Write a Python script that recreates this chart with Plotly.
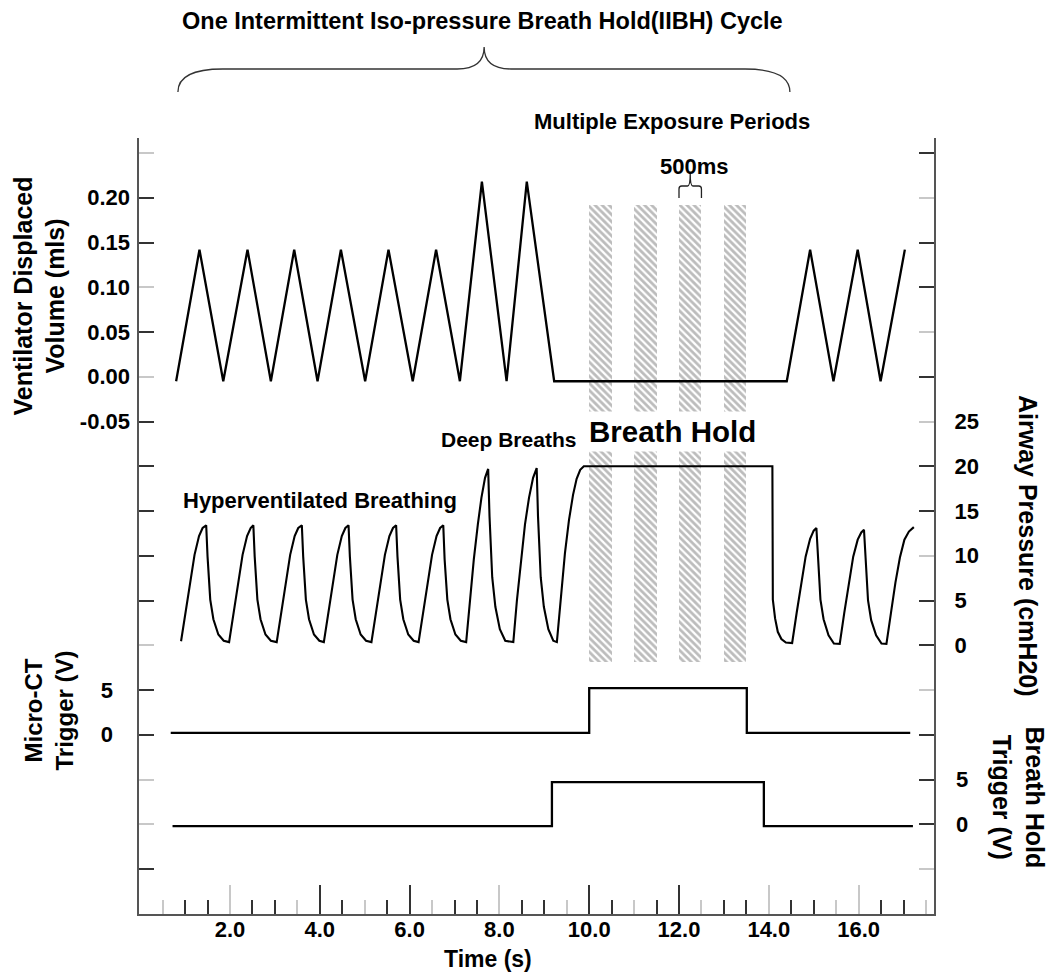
import plotly.graph_objects as go

# ---------------- data ----------------
# Ventilator displaced volume (mls)
vol_t = [0.80, 1.32, 1.85, 2.39, 2.91, 3.43, 3.95, 4.47, 5.01, 5.53, 6.07, 6.59,
         7.12, 7.61, 8.16, 8.61, 9.22, 14.40, 14.92, 15.44, 15.98, 16.49, 17.03]
vol_v = [-0.005, 0.142, -0.005, 0.142, -0.005, 0.142, -0.005, 0.142, -0.005, 0.142,
         -0.005, 0.142, -0.005, 0.218, -0.005, 0.218, -0.005, -0.005, 0.142, -0.005,
         0.142, -0.005, 0.142]

# Airway pressure (cmH2O)
pres_t = [
    0.91, 1.01, 1.11, 1.21, 1.31, 1.39, 1.47, 1.50, 1.56, 1.63, 1.74, 1.86,
    1.98, 2.08, 2.18, 2.28, 2.38, 2.46, 2.52, 2.55, 2.61, 2.68, 2.79, 2.91,
    3.04, 3.14, 3.24, 3.34, 3.44, 3.52, 3.60, 3.63, 3.69, 3.76, 3.87, 3.99,
    4.09, 4.19, 4.29, 4.39, 4.49, 4.57, 4.64, 4.67, 4.73, 4.80, 4.91, 5.03,
    5.15, 5.25, 5.35, 5.45, 5.55, 5.63, 5.70, 5.73, 5.79, 5.86, 5.97, 6.09,
    6.20, 6.30, 6.40, 6.50, 6.60, 6.68, 6.75, 6.78, 6.84, 6.91, 7.02, 7.14,
    7.26, 7.34, 7.43, 7.52, 7.60, 7.68, 7.75, 7.78, 7.84, 7.91, 8.01, 8.13,
    8.31, 8.39, 8.48, 8.57, 8.66, 8.75, 8.83, 8.86, 8.92, 8.99, 9.09, 9.20,
    9.28, 9.37, 9.46, 9.55, 9.64, 9.72, 9.80, 9.88, 14.08, 14.09, 14.14, 14.20, 14.28, 14.38,
    14.52, 14.62, 14.72, 14.82, 14.92, 15.00, 15.06, 15.09, 15.15, 15.22, 15.33, 15.45,
    15.58, 15.68, 15.78, 15.88, 15.98, 16.06, 16.12, 16.15, 16.21, 16.28, 16.39, 16.51,
    16.62, 16.72, 16.82, 16.92, 17.02, 17.12, 17.23,
]
pres_v = [
    0.45, 3.6, 7.0, 10.1, 12.2, 13.1, 13.4, 9.9, 5.1, 2.9, 1.2, 0.5,
    0.35, 3.6, 7.0, 10.1, 12.2, 13.1, 13.4, 9.9, 5.1, 2.9, 1.2, 0.5,
    0.35, 3.6, 7.0, 10.1, 12.2, 13.1, 13.4, 9.9, 5.1, 2.9, 1.2, 0.5,
    0.35, 3.6, 7.0, 10.1, 12.2, 13.1, 13.4, 9.9, 5.1, 2.9, 1.2, 0.5,
    0.35, 3.6, 7.0, 10.1, 12.2, 13.1, 13.4, 9.9, 5.1, 2.9, 1.2, 0.5,
    0.35, 3.6, 7.0, 10.1, 12.2, 13.1, 13.4, 9.6, 5.1, 2.9, 1.2, 0.5,
    0.35, 5.0, 9.6, 13.5, 16.5, 18.7, 19.7, 14.4, 7.6, 4.3, 1.8, 0.5,
    0.35, 5.0, 9.6, 13.5, 16.5, 18.7, 19.8, 14.4, 7.6, 4.3, 1.8, 0.5,
    0.35, 5.5, 10.3, 14.0, 16.8, 18.6, 19.6, 20.0, 20.0, 5.1, 3.0, 1.5, 0.7, 0.3,
    0.25, 3.6, 7.0, 9.9, 11.9, 12.8, 13.1, 9.9, 5.1, 2.9, 1.1, 0.2,
    0.15, 3.6, 7.0, 9.9, 11.8, 12.6, 12.9, 9.8, 5.0, 2.8, 1.1, 0.2,
    0.15, 3.6, 7.0, 9.8, 11.8, 12.7, 13.2,
]

# Micro-CT trigger (V)
ct_t = [0.68, 10.00, 10.00, 13.51, 13.51, 17.15]
ct_v = [0.2, 0.2, 5.2, 5.2, 0.2, 0.2]

# Breath hold trigger (V)
bh_t = [0.72, 9.17, 9.17, 13.89, 13.89, 17.21]
bh_v = [-0.2, -0.2, 4.7, 4.7, -0.2, -0.2]

# exposure periods (s) and their length (500 ms)
exp_start = [10.0, 11.0, 12.0, 13.0]
exp_len = [0.5, 0.5, 0.5, 0.5]

# tick labels
vol_ticks = [0.20, 0.15, 0.10, 0.05, 0.00, -0.05]
pres_ticks = [0, 5, 10, 15, 20, 25]
trig_ticks = [0, 5]
time_ticks = [2, 4, 6, 8, 10, 12, 14, 16]

# ---------------- geometry ----------------
W, H = 1051, 974
ML, MR, MT, MB = 139, 117, 138, 60
PW, PH = W - ML - MR, H - MT - MB
PX_PER_S = 44.9
X0_PX = 140.2
XMIN = -(X0_PX - ML) / PX_PER_S
XMAX = XMIN + PW / PX_PER_S
TICK0_PY, TICK_STEP = 153.0, 44.75


def px(xp):
    return (xp - ML) / PW


def py(yp):
    return (H - MB - yp) / PH


def yrange(k_zero, step):
    top = (k_zero + (TICK0_PY - MT) / TICK_STEP) * step
    return [top - PH / TICK_STEP * step, top]


def kpaper(ks):
    return [py(TICK0_PY + TICK_STEP * k) for k in ks]


FONT = "Liberation Sans, Arial, Helvetica, sans-serif"
AX = "#555555"
GRAY_T = "#c8c8c8"
BLK_T = "#333333"

fig = go.Figure()

# hatched exposure bars (bottom layer, on hidden paper-like axis y)
bar_bot, bar_top = py(662), py(205)
fig.add_trace(go.Bar(
    x=exp_start, y=[bar_top - bar_bot] * len(exp_start), base=bar_bot,
    width=exp_len, offset=0, xaxis="x", yaxis="y",
    marker=dict(color="white", line=dict(width=0),
                pattern=dict(shape="\\", fgcolor="#7a7a7a", bgcolor="white",
                             size=5, solidity=0.55)),
    hoverinfo="skip", showlegend=False))

line = dict(color="black", width=2.3)
fig.add_trace(go.Scatter(x=vol_t, y=vol_v, mode="lines", line=line, yaxis="y2", showlegend=False))
fig.add_trace(go.Scatter(x=pres_t, y=pres_v, mode="lines", line=dict(color="black", width=2.1),
                         yaxis="y3", showlegend=False))
fig.add_trace(go.Scatter(x=ct_t, y=ct_v, mode="lines", line=line, yaxis="y4", showlegend=False))
fig.add_trace(go.Scatter(x=bh_t, y=bh_v, mode="lines", line=line, yaxis="y5", showlegend=False))

# empty traces so that the tick-only helper axes get drawn
for xa, ya in [("x2", "y"), ("x3", "y"), ("x4", "y"), ("x5", "y"),
               ("x", "y6"), ("x", "y7"), ("x", "y8"), ("x", "y9")]:
    fig.add_trace(go.Scatter(x=[], y=[], xaxis=xa, yaxis=ya, mode="lines",
                             showlegend=False, hoverinfo="skip"))

tickfont = dict(family=FONT, size=22, color="black", weight="bold")
base_y = dict(showgrid=False, zeroline=False, fixedrange=True)

# x tick groups
half = [0.5 * i for i in range(1, 36)]
gray_short = [0.5, 3.5, 5.0, 6.5, 9.5, 11.0, 12.5, 15.5, 17.5]
gray_tall = [2, 8, 14, 16]
black_tall = [4, 6, 10, 12]
black_short = [v for v in half if v not in gray_short + gray_tall + black_tall]

xcommon = dict(range=[XMIN, XMAX], showgrid=False, zeroline=False, fixedrange=True)
layout = dict(
    width=W, height=H, margin=dict(l=ML, r=MR, t=MT, b=MB),
    paper_bgcolor="white", plot_bgcolor="white", showlegend=False, bargap=0,
    xaxis=dict(**xcommon, tickvals=time_ticks, ticktext=[f"{v:.1f}" for v in time_ticks],
               ticks="", showline=True, linecolor=AX, linewidth=2, tickfont=tickfont,
               ticklabelstandoff=-5),
    xaxis2=dict(**xcommon, overlaying="x", anchor="y", side="bottom", tickvals=black_short,
                ticks="inside", ticklen=14, tickwidth=1.5, tickcolor=BLK_T, showticklabels=False),
    xaxis3=dict(**xcommon, overlaying="x", anchor="y", side="bottom", tickvals=gray_short,
                ticks="inside", ticklen=14, tickwidth=2, tickcolor=GRAY_T, showticklabels=False),
    xaxis4=dict(**xcommon, overlaying="x", anchor="y", side="bottom", tickvals=black_tall,
                ticks="inside", ticklen=29, tickwidth=1.5, tickcolor=BLK_T, showticklabels=False),
    xaxis5=dict(**xcommon, overlaying="x", anchor="y", side="bottom", tickvals=gray_tall,
                ticks="inside", ticklen=29, tickwidth=2, tickcolor=GRAY_T, showticklabels=False),
    yaxis=dict(**base_y, range=[0, 1], showline=True, linecolor=AX, linewidth=2,
               ticks="", showticklabels=False),
    yaxis2=dict(**base_y, overlaying="y", anchor="x", side="left", range=yrange(5, 0.05),
                tickvals=vol_ticks, ticktext=[f"{v:.2f}" for v in vol_ticks], ticks="",
                tickfont=tickfont, ticklabelstandoff=8),
    yaxis3=dict(**base_y, overlaying="y", anchor="x", side="right", range=yrange(11, 5),
                tickvals=pres_ticks, ticks="", tickfont=tickfont, ticklabelstandoff=14,
                showline=True, linecolor=AX, linewidth=2),
    yaxis4=dict(**base_y, overlaying="y", anchor="x", side="left", range=yrange(13, 5),
                tickvals=trig_ticks, ticks="", tickfont=tickfont, ticklabelstandoff=25),
    yaxis5=dict(**base_y, overlaying="y", anchor="x", side="right", range=yrange(15, 5),
                tickvals=trig_ticks, ticks="", tickfont=tickfont, ticklabelstandoff=21),
    yaxis6=dict(**base_y, overlaying="y", anchor="x", side="left", range=[0, 1],
                tickvals=kpaper([1, 2, 4, 6, 7, 8, 9, 10, 12, 13, 16]), ticks="inside",
                ticklen=15, tickwidth=1.5, tickcolor=BLK_T, showticklabels=False),
    yaxis7=dict(**base_y, overlaying="y", anchor="x", side="left", range=[0, 1],
                tickvals=kpaper([0, 3, 5, 11, 14, 15]), ticks="inside",
                ticklen=15, tickwidth=2, tickcolor=GRAY_T, showticklabels=False),
    yaxis8=dict(**base_y, overlaying="y", anchor="x", side="right", range=[0, 1],
                tickvals=kpaper([0, 2, 3, 5, 7, 8, 10, 11, 13, 14, 15]), ticks="inside",
                ticklen=15, tickwidth=1.5, tickcolor=BLK_T, showticklabels=False),
    yaxis9=dict(**base_y, overlaying="y", anchor="x", side="right", range=[0, 1],
                tickvals=kpaper([1, 4, 6, 9, 12, 16]), ticks="inside",
                ticklen=15, tickwidth=2, tickcolor=GRAY_T, showticklabels=False),
)
fig.update_layout(**layout)


def label(text, x, y, size=21, angle=0, xanchor="center", bg=None):
    fig.add_annotation(text=text, x=px(x), y=py(y), xref="paper", yref="paper",
                       showarrow=False, textangle=angle, xanchor=xanchor, yanchor="middle",
                       font=dict(family=FONT, size=size, color="black", weight="bold"),
                       bgcolor=bg, borderpad=3 if bg else 0)


label("One Intermittent Iso-pressure Breath Hold(IIBH) Cycle", 482, 21, size=23.5)
label("Multiple Exposure Periods", 672, 121, size=22)
label("500ms", 694, 166, size=22)
label("Breath Hold", 672.5, 431, size=29.5, bg="white")
label("Deep Breaths", 577, 440, size=21, xanchor="right")
label("Hyperventilated Breathing", 182, 500, size=22, xanchor="left")
label("Time (s)", 488, 959, size=23)
label("Ventilator Displaced<br>Volume (mls)", 38.5, 296, size=25, angle=-90)
label("Micro-CT<br>Trigger (V)", 48.5, 711, size=24, angle=-90)
label("Airway Pressure (cmH20)", 1028, 546, size=25, angle=90)
label("Breath Hold<br>Trigger (V)", 1018.5, 797, size=25, angle=90)

# big brace over one IIBH cycle
bx0, bxm, bx1 = 0.84, 7.66, 14.47
ye, yh, yt = py(92), py(69), py(47)
d, d2 = 1.0, 0.6
brace = (f"M {bx0},{ye} Q {bx0},{yh} {bx0 + d},{yh} L {bxm - d2},{yh} "
         f"Q {bxm},{yh} {bxm},{yt} Q {bxm},{yh} {bxm + d2},{yh} L {bx1 - d},{yh} "
         f"Q {bx1},{yh} {bx1},{ye}")
fig.add_shape(type="path", path=brace, xref="x", yref="paper",
              line=dict(color="#333333", width=1.3))

# small 500 ms brace
s0, sm, s1 = exp_start[2], exp_start[2] + exp_len[2] / 2, exp_start[2] + exp_len[2]
ya, yb, yc = py(198), py(186), py(174)
small = (f"M {s0},{ya} L {s0},{py(189)} Q {s0},{yb} {s0 + 0.06},{yb} L {sm - 0.06},{yb} "
         f"Q {sm},{yb} {sm},{yc} Q {sm},{yb} {sm + 0.06},{yb} L {s1 - 0.06},{yb} "
         f"Q {s1},{yb} {s1},{py(189)} L {s1},{ya}")
fig.add_shape(type="path", path=small, xref="x", yref="paper",
              line=dict(color="#222222", width=1.3))

fig.write_html("out.html")
